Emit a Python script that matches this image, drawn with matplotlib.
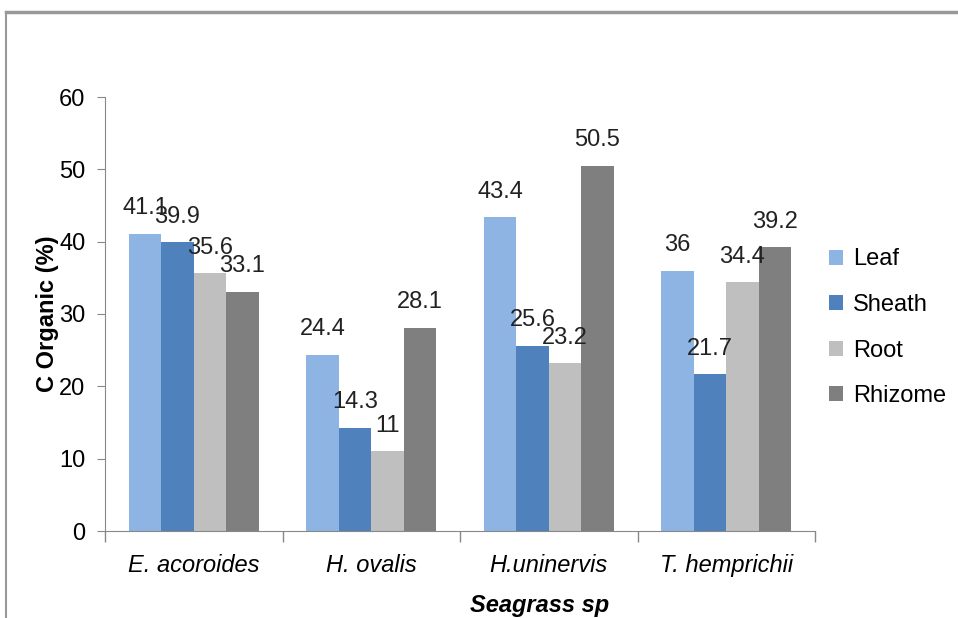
import matplotlib.pyplot as plt
from matplotlib.lines import Line2D
import numpy as np

species = ['E. acoroides', 'H. ovalis', 'H.uninervis', 'T. hemprichii']
parts = ['Leaf', 'Sheath', 'Root', 'Rhizome']
leaf = [41.1, 24.4, 43.4, 36]
sheath = [39.9, 14.3, 25.6, 21.7]
root = [35.6, 11, 23.2, 34.4]
rhizome = [33.1, 28.1, 50.5, 39.2]
colors = ['#8DB4E2', '#4F81BD', '#BFBFBF', '#7F7F7F']

plt.rcParams['font.family'] = ['Liberation Sans', 'DejaVu Sans']

fig = plt.figure(figsize=(9.58, 6.18), dpi=100)
ax = fig.add_axes([105 / 958, 1 - 531 / 618, 710 / 958, 434 / 618])

x = np.arange(len(species))
w = 0.183
series = [leaf, sheath, root, rhizome]
for i, (vals, name, c) in enumerate(zip(series, parts, colors)):
    pos = x + (i - 1.5) * w
    ax.bar(pos, vals, w, color=c, label=name)
    for p, v in zip(pos, vals):
        ax.text(p, v + 2.0, f'{v:g}', ha='center', va='bottom',
                fontsize=17, color='#222222')

ax.set_xlim(-0.5, 3.5)
ax.set_ylim(0, 60)
ax.set_yticks(range(0, 61, 10))
ax.set_xticks([])
ax.set_xticks(np.arange(-0.5, 3.6, 1), minor=True)
ax.tick_params(axis='x', which='minor', length=8, color='#888888', width=1)
ax.tick_params(axis='y', length=6, color='#888888', labelsize=17, pad=8)
for s in ['top', 'right']:
    ax.spines[s].set_visible(False)
for s in ['left', 'bottom']:
    ax.spines[s].set_color('#888888')

for xi, name in zip(x, species):
    ax.text(xi, -4.8, name, ha='center', va='center', fontsize=17, style='italic')

ax.text(1.95, -10.3, 'Seagrass sp', ha='center', va='center', fontsize=17,
        fontweight='bold', style='italic')
ax.set_ylabel('C Organic (%)', fontsize=17, fontweight='bold', labelpad=0)

ax.legend(loc='upper left', bbox_to_anchor=(0.99, 0.70), frameon=False,
          fontsize=17, handlelength=0.6, handleheight=0.6, labelspacing=1.0,
          handletextpad=0.4)

fig.add_artist(Line2D([6 / 958, 6 / 958], [0, 1 - 12 / 618], color='#999999', lw=1.5))
fig.add_artist(Line2D([6 / 958, 1], [1 - 12 / 618, 1 - 12 / 618], color='#999999', lw=2.5))

fig.savefig('out.png', dpi=100)
